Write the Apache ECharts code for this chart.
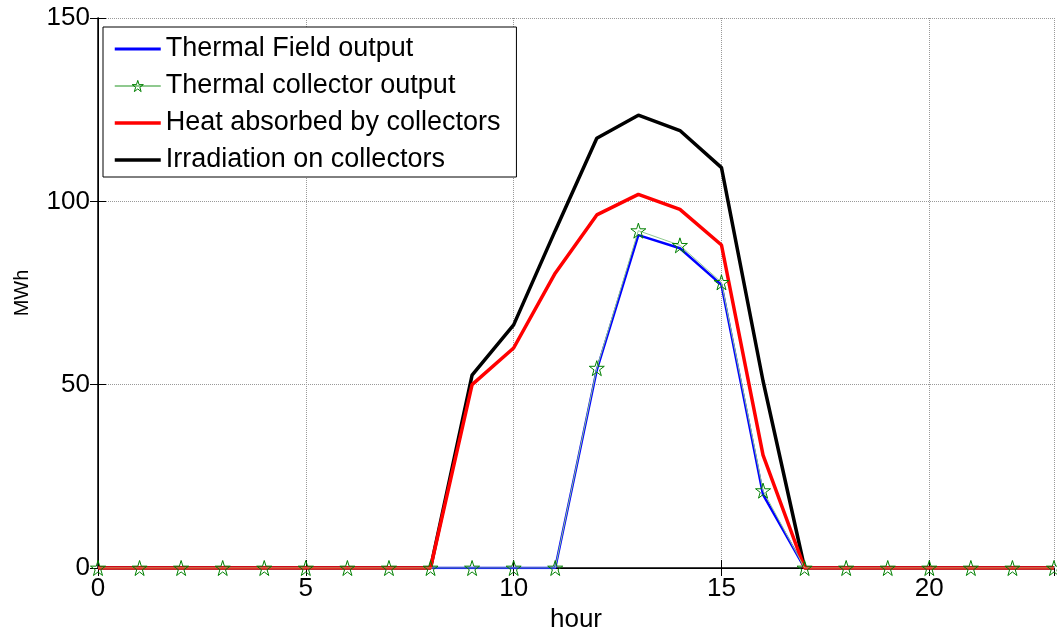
<!DOCTYPE html>
<html>
<head>
<meta charset="utf-8">
<script src="https://cdn.jsdelivr.net/npm/echarts@6/dist/echarts.min.js"></script>
<style>
  html, body { margin: 0; padding: 0; background: #fff; }
  #main { width: 1057px; height: 630px; }
</style>
</head>
<body>
<div id="main"></div>
<script>
// hours of the day
var hours = [0,1,2,3,4,5,6,7,8,9,10,11,12,13,14,15,16,17,18,19,20,21,22,23];

// MWh per hour
var fieldOutput     = [0,0,0,0,0,0,0,0,0,0,0,0,54,90.8,87.2,77.2,20,0,0,0,0,0,0,0];
var collectorOutput = [0,0,0,0,0,0,0,0,0,0,0,0,54.5,92,88,77.9,21.1,0,0,0,0,0,0,0];
var heatAbsorbed    = [0,0,0,0,0,0,0,0,0,50,60,80.4,96.3,101.9,97.8,88.1,30.8,0,0,0,0,0,0,0];
var irradiation     = [0,0,0,0,0,0,0,0,0,52.6,66.3,92,117.2,123.5,119.3,109.2,51,0,0,0,0,0,0,0];

var yTicks = [0, 50, 100, 150];

function pairs(vals) {
    return hours.map(function (h, i) { return [h, vals[i]]; });
}

var font = 'Liberation Sans, Arial, sans-serif';
var star = 'path://M50,2 L61,37 L98,37 L68,59 L79,95 L50,73 L21,95 L32,59 L2,37 L39,37 Z';

var myChart = echarts.init(document.getElementById('main'));
var option = {
    backgroundColor: '#fff',
    animation: false,
    textStyle: { fontFamily: font },
    grid: { left: 98, right: 3, top: 18, bottom: 62, outerBoundsMode: 'none', containLabel: false },
    legend: {
        orient: 'vertical',
        left: 103,
        top: 27,
        padding: [7, 16, 2, 10],
        itemGap: 7,
        itemWidth: 46,
        itemHeight: 14,
        backgroundColor: '#fff',
        borderColor: '#000',
        borderWidth: 1,
        borderRadius: 0,
        textStyle: { fontSize: 27, color: '#000', fontFamily: font, lineHeight: 30 },
        data: [
            { name: 'Thermal Field output', itemStyle: { opacity: 0 }, lineStyle: { width: 3 } },
            { name: 'Thermal collector output',
              itemStyle: { color: 'rgba(255,255,255,0)', borderColor: '#008000', borderWidth: 1 } },
            { name: 'Heat absorbed by collectors', itemStyle: { opacity: 0 }, lineStyle: { width: 3.5 } },
            { name: 'Irradiation on collectors', itemStyle: { opacity: 0 }, lineStyle: { width: 3.5 } }
        ]
    },
    xAxis: [
        {
            type: 'value', min: 0, max: 23, interval: 5,
            name: 'hour', nameLocation: 'middle', nameGap: 38,
            nameTextStyle: { fontSize: 26, color: '#000', fontFamily: font },
            axisLine: { lineStyle: { color: '#000', width: 1.5 } },
            axisTick: { inside: true, length: 8, lineStyle: { color: '#000' } },
            axisLabel: { fontSize: 26, color: '#000', margin: 8, fontFamily: font, showMaxLabel: false },
            splitLine: { show: true, lineStyle: { color: '#999', type: 'dotted', width: 1 } }
        },
        {
            type: 'value', min: 0, max: 23, interval: 5, position: 'top',
            axisLine: { lineStyle: { color: '#000', width: 1 } },
            axisTick: { inside: true, length: 8, lineStyle: { color: '#000' } },
            axisLabel: { show: false },
            splitLine: { show: false }
        }
    ],
    yAxis: [
        {
            type: 'value', min: yTicks[0], max: yTicks[yTicks.length - 1], interval: 50,
            name: 'MWh', nameLocation: 'middle', nameGap: 66,
            nameTextStyle: { fontSize: 20, color: '#000', fontFamily: font },
            axisLine: { show: true, lineStyle: { color: '#000', width: 1.5 } },
            axisTick: { show: true, inside: true, length: 8, lineStyle: { color: '#000' } },
            axisLabel: { fontSize: 26, color: '#000', margin: 8, fontFamily: font },
            splitLine: { show: true, lineStyle: { color: '#999', type: 'dotted', width: 1 } }
        },
        {
            type: 'value', min: yTicks[0], max: yTicks[yTicks.length - 1], interval: 50, position: 'right',
            axisLine: { show: true, lineStyle: { color: '#000', width: 1 } },
            axisTick: { show: true, inside: true, length: 8, lineStyle: { color: '#000' } },
            axisLabel: { show: false },
            splitLine: { show: false }
        }
    ],
    series: [
        {
            name: 'Thermal Field output', type: 'line',
            data: pairs(fieldOutput),
            symbol: 'none',
            itemStyle: { color: '#0000ff' },
            lineStyle: { color: '#0000ff', width: 2.5 },
            z: 3
        },
        {
            name: 'Thermal collector output', type: 'line',
            data: pairs(collectorOutput),
            symbol: star, symbolSize: 15, showAllSymbol: true,
            itemStyle: { color: 'rgba(255,255,255,0)', borderColor: '#008000', borderWidth: 1 },
            lineStyle: { color: '#8fc98f', width: 1 },
            z: 6
        },
        {
            name: 'Heat absorbed by collectors', type: 'line',
            data: pairs(heatAbsorbed),
            symbol: 'none',
            itemStyle: { color: '#ff0000' },
            lineStyle: { color: '#ff0000', width: 3.5 },
            z: 4
        },
        {
            name: 'Irradiation on collectors', type: 'line',
            data: pairs(irradiation),
            symbol: 'none',
            itemStyle: { color: '#000000' },
            lineStyle: { color: '#000000', width: 3.5 },
            z: 2
        }
    ]
};
myChart.setOption(option);
</script>
</body>
</html>
